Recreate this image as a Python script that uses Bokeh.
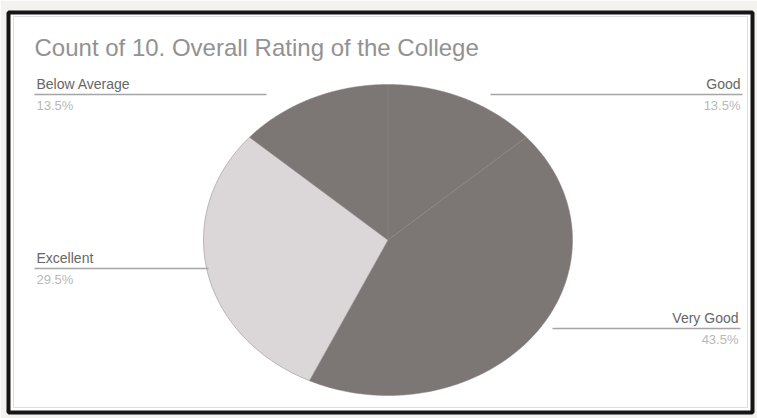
import numpy as np
from bokeh.plotting import figure
from bokeh.models import Range1d, Label, ColumnDataSource
from bokeh.embed import file_html
from bokeh.resources import INLINE

# ---- data ----
categories = ["Good", "Very Good", "Excellent", "Below Average"]
shares = [13.5, 43.5, 29.5, 13.5]          # percent of responses
slice_colors = ["#7c7774", "#7c7774", "#dbd7d9", "#7c7774"]
title_text = "Count of 10. Overall Rating of the College"

W, H = 757, 418
# frame edges (page px) and pie centre / radii (page px) -- layout only
FL, FR, FT, FB = 8, 752, 12, 412
cx, cy, rx, ry = 387.5, 239.5, 184.5, 155.5


def X(px):
    return (px - cx) / rx


def Y(py):
    return (cy - py) / ry


p = figure(width=W, height=H, output_backend="svg", toolbar_location=None,
           x_range=Range1d(X(FL), X(FR)), y_range=Range1d(Y(FB), Y(FT)),
           min_border_left=FL, min_border_right=W - FR,
           min_border_top=FT, min_border_bottom=H - FB,
           background_fill_color="white", border_fill_color="#f4f2ee")
p.axis.visible = False
p.grid.visible = False
p.outline_line_color = "#151515"
p.outline_line_width = 4

# faint inner frame
p.quad(left=[X(FL + 5)], right=[X(FR - 5)], bottom=[Y(FB - 5)], top=[Y(FT + 4)],
       fill_alpha=0, line_color="#dddddd", line_width=1)

# build wedges clockwise from 12 o'clock
total = sum(shares)
xs, ys = [], []
start = np.pi / 2
for s in shares:
    ang = s / total * 2 * np.pi
    t = np.linspace(start, start - ang, 100)
    xs.append(np.concatenate([[0], np.cos(t), [0]]))
    ys.append(np.concatenate([[0], np.sin(t), [0]]))
    start -= ang

src = ColumnDataSource(dict(xs=xs, ys=ys, color=slice_colors, cat=categories))
p.patches("xs", "ys", source=src, fill_color="color", line_color="#8a8582",
          line_alpha=0.5, line_width=1)

FONT = "Liberation Sans"
p.add_layout(Label(x=X(34), y=Y(47), text=title_text, text_font=FONT,
                   text_font_size="24px", text_color="#929292",
                   text_baseline="middle"))

pct = {c: f"{s / total * 100:.1f}%" for c, s in zip(categories, shares)}

# label layout (page px): category, line y, line x0, line x1, align
layout = [
    ("Below Average", 94, 34, 266, "left"),
    ("Good", 94, 490, 742, "right"),
    ("Excellent", 268, 34, 208, "left"),
    ("Very Good", 328, 552, 740, "right"),
]
for cat, ly, x0, x1, align in layout:
    p.segment(x0=[X(x0)], y0=[Y(ly)], x1=[X(x1)], y1=[Y(ly)],
              line_color="#a5a5a5", line_width=1.5)
    tx = X(x0 + 2) if align == "left" else X(x1 - 2)
    p.add_layout(Label(x=tx, y=Y(ly - 3), text=cat, text_font=FONT,
                       text_font_size="14px", text_color="#666666",
                       text_align=align, text_baseline="bottom"))
    p.add_layout(Label(x=tx, y=Y(ly + 3), text=pct[cat], text_font=FONT,
                       text_font_size="13px", text_color="#b8b8b8",
                       text_align=align, text_baseline="top"))

open("out.html", "w").write(file_html(p, INLINE))
